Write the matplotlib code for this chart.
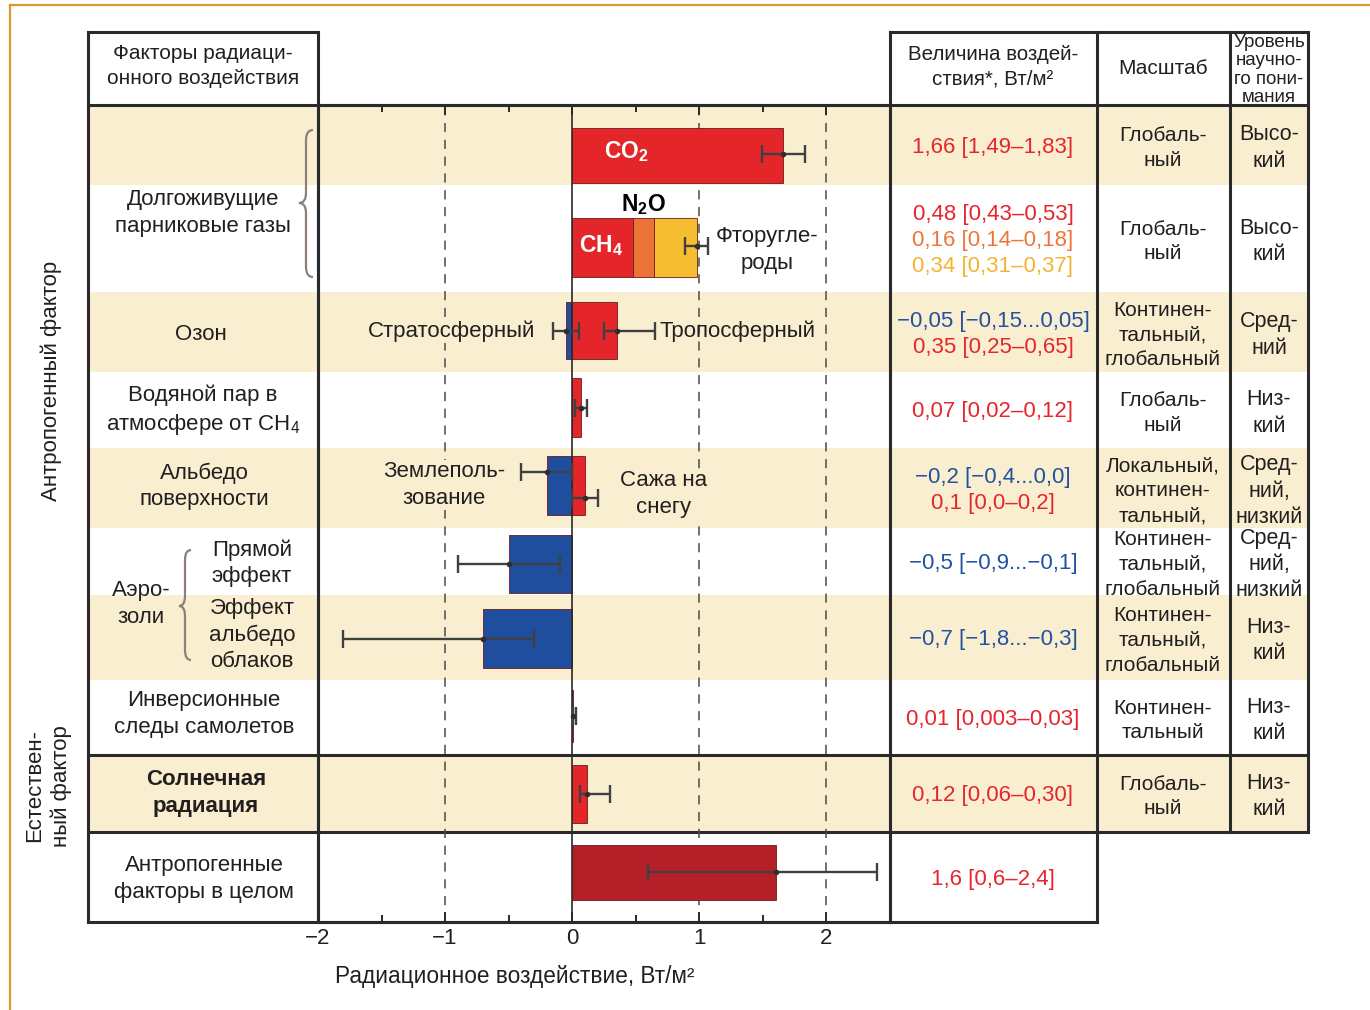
import matplotlib
matplotlib.use('Agg')
import matplotlib.pyplot as plt
from matplotlib.patches import Rectangle, PathPatch
from matplotlib.path import Path

plt.rcParams['font.family'] = ['Liberation Sans', 'DejaVu Sans']
plt.rcParams['mathtext.fontset'] = 'custom'
plt.rcParams['mathtext.rm'] = 'Liberation Sans'
plt.rcParams['mathtext.bf'] = 'Liberation Sans:bold'
plt.rcParams['axes.unicode_minus'] = True

# ---------------- data ----------------
# bars: row index, value, kind (stacked when same row and same sign)
bar_row = [0, 1, 1, 1, 2, 2, 3, 4, 4, 5, 6, 7, 8, 9]
bar_value = [1.66, 0.48, 0.16, 0.34, -0.05, 0.35, 0.07, -0.2, 0.1, -0.5, -0.7, 0.01, 0.12, 1.6]
bar_kind = ['pos', 'pos', 'n2o', 'halo', 'neg', 'pos', 'pos', 'neg', 'pos', 'neg', 'neg', 'pos', 'pos', 'total']

# uncertainty ranges
err_row = [0, 1, 2, 2, 3, 4, 4, 5, 6, 7, 8, 9]
err_center = [1.66, 0.98, -0.05, 0.35, 0.07, -0.2, 0.1, -0.5, -0.7, 0.01, 0.12, 1.6]
err_low = [1.49, 0.89, -0.15, 0.25, 0.02, -0.4, 0.0, -0.9, -1.8, 0.003, 0.06, 0.6]
err_high = [1.83, 1.07, 0.05, 0.65, 0.12, 0.0, 0.2, -0.1, -0.3, 0.03, 0.30, 2.4]

factor_labels = [
    'Долгоживущие\nпарниковые газы', None, 'Озон', 'Водяной пар в\nатмосфере от CH$_4$',
    'Альбедо\nповерхности', 'Прямой\nэффект', 'Эффект\nальбедо\nоблаков',
    'Инверсионные\nследы самолетов', 'Солнечная\nрадиация', 'Антропогенные\nфакторы в целом',
]

value_text = [
    [('1,66 [1,49–1,83]', 'r')],
    [('0,48 [0,43–0,53]', 'r'), ('0,16 [0,14–0,18]', 'o'), ('0,34 [0,31–0,37]', 'y')],
    [('−0,05 [−0,15...0,05]', 'b'), ('0,35 [0,25–0,65]', 'r')],
    [('0,07 [0,02–0,12]', 'r')],
    [('−0,2 [−0,4...0,0]', 'b'), ('0,1 [0,0–0,2]', 'r')],
    [('−0,5 [−0,9...−0,1]', 'b')],
    [('−0,7 [−1,8...−0,3]', 'b')],
    [('0,01 [0,003–0,03]', 'r')],
    [('0,12 [0,06–0,30]', 'r')],
    [('1,6 [0,6–2,4]', 'r')],
]
scale_text = ['Глобаль-\nный', 'Глобаль-\nный', 'Континен-\nтальный,\nглобальный', 'Глобаль-\nный',
              'Локальный,\nконтинен-\nтальный,', 'Континен-\nтальный,\nглобальный',
              'Континен-\nтальный,\nглобальный', 'Континен-\nтальный', 'Глобаль-\nный', '']
level_text = ['Высо-\nкий', 'Высо-\nкий', 'Сред-\nний', 'Низ-\nкий', 'Сред-\nний,\nнизкий',
              'Сред-\nний,\nнизкий', 'Низ-\nкий', 'Низ-\nкий', 'Низ-\nкий', '']

x_ticks = [-2, -1, 0, 1, 2]

# ---------------- layout (pixels) ----------------
W, H = 1370, 1010
row_edges = [105, 185, 292, 372, 448, 528, 595, 680, 755, 832, 922]
bar_span = [(128, 183), (218, 277), (302, 359), (378, 437), (456, 515),
            (535, 593), (609, 668), (690, 742), (765, 823), (845, 900)]
err_dy = [-2, -2, 0, 0, 0, -14, 12, 0, 0, 0, 0, -1]
beige_rows = [0, 2, 4, 6, 8]
X0, X1 = 318, 890  # chart area, -2 .. 2.5
BEIGE = '#F9EFD0'
LINE = '#2a2a2a'
TXT = '#231f20'
bar_colors = {'pos': '#E4262B', 'n2o': '#EA7336', 'halo': '#F6BD30', 'neg': '#1F4E9F', 'total': '#B41F28'}
txt_colors = {'r': '#E5262C', 'o': '#EE7638', 'y': '#F2B431', 'b': '#22519F'}
FS = 16
LS = 1.32

fig = plt.figure(figsize=(W / 100, H / 100), dpi=100)
bg = fig.add_axes([0, 0, 1, 1])
bg.set_xlim(0, W)
bg.set_ylim(H, 0)
bg.axis('off')

# page frame
bg.plot([10, W], [5, 5], color='#D99A2B', lw=1.6)
bg.plot([10, 10], [5, H], color='#D99A2B', lw=1.6)

# row bands
for i in beige_rows:
    bg.add_patch(Rectangle((88, row_edges[i]), 1308 - 88, row_edges[i + 1] - row_edges[i],
                           facecolor=BEIGE, lw=0, zorder=0))

# table lines
lw = 2.2
for xs, ys in [([88, 318], [32, 32]), ([890, 1308], [32, 32]), ([88, 1308], [105, 105]),
               ([88, 88], [32, 922]), ([318, 318], [32, 922]), ([890, 890], [32, 922]),
               ([1097, 1097], [32, 922]), ([1230, 1230], [32, 832]), ([1308, 1308], [32, 832]),
               ([88, 1308], [755, 755]), ([88, 1308], [832, 832]), ([88, 1097], [922, 922])]:
    bg.plot(xs, ys, color=LINE, lw=lw, solid_capstyle='projecting', zorder=3)

# headers
bg.text(203, 66, 'Факторы радиаци-\nонного воздействия', ha='center', va='center',
        fontsize=15, color=TXT, linespacing=1.35)
bg.text(993, 67, 'Величина воздей-\nствия*, Вт/м²', ha='center', va='center',
        fontsize=14.8, color=TXT, linespacing=1.35)
bg.text(1163, 69, 'Масштаб', ha='center', va='center', fontsize=15, color=TXT)
bg.text(1269, 70, 'Уровень\nнаучно-\nго пони-\nмания', ha='center', va='center',
        fontsize=13.5, color=TXT, linespacing=1.08)

# side labels
bg.text(51, 381, 'Антропогенный фактор', rotation=90, ha='center', va='center',
        fontsize=FS, color=TXT)
bg.text(48, 786, 'Естествен-\nный фактор', rotation=90, ha='center', va='center',
        fontsize=FS, color=TXT, linespacing=1.3)

# factor labels
label_pos = [(203, 213), None, (201, 334), (203, 411), (204, 486), (252, 563), (252, 635),
             (204, 714), (206, 793), (204, 879)]
for i, lab in enumerate(factor_labels):
    if lab is None:
        continue
    x, y = label_pos[i]
    bg.text(x, y, lab, ha='center', va='center', fontsize=FS, color=TXT, linespacing=LS,
            fontweight='bold' if i == 8 else 'normal')
bg.text(141, 604, 'Аэро-\nзоли', ha='center', va='center', fontsize=FS, color=TXT, linespacing=LS)


def brace(ax, xe, xt, y0, y1, ymid):
    xm = (xe + xt) / 2
    r = 10
    verts = [(xe, y0), (xm, y0), (xm, y0 + r), (xm, ymid - r), (xm, ymid), (xt, ymid),
             (xm, ymid), (xm, ymid + r), (xm, y1 - r), (xm, y1), (xe, y1)]
    codes = [Path.MOVETO, Path.CURVE3, Path.CURVE3, Path.LINETO, Path.CURVE3, Path.CURVE3,
             Path.CURVE3, Path.CURVE3, Path.LINETO, Path.CURVE3, Path.CURVE3]
    ax.add_patch(PathPatch(Path(verts, codes), fill=False, edgecolor='#8c8078', lw=1.6, zorder=2))


brace(bg, 313, 299, 130, 277, 203)
brace(bg, 191, 179, 550, 660, 606)

# right columns
for i in range(len(value_text)):
    yc = (row_edges[i] + row_edges[i + 1]) / 2 + 2
    lines = value_text[i]
    n = len(lines)
    for k, (t, c) in enumerate(lines):
        bg.text(993, yc + (k - (n - 1) / 2) * 26, t, ha='center', va='center',
                fontsize=FS, color=txt_colors[c])
    if scale_text[i]:
        bg.text(1163, yc + 1, scale_text[i], ha='center', va='center', fontsize=15,
                color=TXT, linespacing=1.38)
    if level_text[i]:
        bg.text(1269, yc + 1, level_text[i], ha='center', va='center', fontsize=15.5,
                color=TXT, linespacing=1.32)

bg.text(515, 977, 'Радиационное воздействие, Вт/м²', ha='center', va='center',
        fontsize=16.3, color=TXT)

# ---------------- chart ----------------
ax = fig.add_axes([X0 / W, 1 - 922 / H, (X1 - X0) / W, (922 - 105) / H])
ax.patch.set_alpha(0)
ax.set_xlim(-2, 2.5)
ax.set_ylim(922, 105)
for s in ax.spines.values():
    s.set_linewidth(lw)
    s.set_color(LINE)

for xv in [-1, 1, 2]:
    ax.axvline(xv, color='#4a4a4a', lw=1.1, ls=(0, (6, 5)), zorder=1)
ax.axvline(0, color='#2a2a2a', lw=1.2, zorder=4)

pos_acc = {}
neg_acc = {}
for r, v, k in zip(bar_row, bar_value, bar_kind):
    acc = pos_acc if v >= 0 else neg_acc
    left = acc.get(r, 0.0)
    top, bot = bar_span[r]
    ax.barh((top + bot) / 2, v, height=bot - top, left=left, color=bar_colors[k],
            edgecolor='#6d1a1a', linewidth=0.6, zorder=3)
    acc[r] = left + v

for r, c, lo, hi, dy in zip(err_row, err_center, err_low, err_high, err_dy):
    top, bot = bar_span[r]
    y = (top + bot) / 2 + dy
    ax.errorbar(c, y, xerr=[[c - lo], [hi - c]], fmt='o', ms=3, color='#2e2e2e',
                ecolor='#404040', elinewidth=1.7, capsize=6.5, capthick=1.7, zorder=5)

# labels inside the chart
knock = dict(boxstyle='square,pad=0.05', facecolor=BEIGE, edgecolor='none')
ax.text(0.43, 152, 'CO$_\\mathbf{2}$', color='white', fontsize=16.5, fontweight='bold',
        ha='center', va='center', zorder=6)
ax.text(0.23, 246, 'CH$_\\mathbf{4}$', color='white', fontsize=16.5, fontweight='bold',
        ha='center', va='center', zorder=6)
ax.text(0.56, 205, 'N$_\\mathbf{2}$O', color='black', fontsize=16.5, fontweight='bold',
        ha='center', va='center', zorder=6)
ax.text(1.13, 250, 'Фторугле-\nроды', color=TXT, fontsize=FS, ha='left', va='center',
        linespacing=LS, multialignment='center', zorder=6)
ax.text(-0.29, 331, 'Стратосферный', color=TXT, fontsize=FS, ha='right', va='center',
        bbox=knock, zorder=6)
ax.text(0.69, 331, 'Тропосферный', color=TXT, fontsize=FS, ha='left', va='center', zorder=6)
ax.text(-1.01, 485, 'Землеполь-\nзование', color=TXT, fontsize=FS, ha='center', va='center',
        linespacing=LS, bbox=knock, zorder=6)
ax.text(0.72, 494, 'Сажа на\nснегу', color=TXT, fontsize=FS, ha='center', va='center',
        linespacing=LS, bbox=knock, zorder=6)

ax.set_xticks(x_ticks)
ax.set_xticklabels([f'{t}'.replace('-', '−') for t in x_ticks])
ax.set_xticks([-1.5, -0.5, 0.5, 1.5], minor=True)
ax.set_yticks([])
ax.tick_params(axis='x', which='major', direction='in', length=7, width=1.4, top=True,
               labelsize=16, labelcolor=TXT, pad=4, color=LINE)
ax.tick_params(axis='x', which='minor', direction='in', length=5, width=1.4, top=True, color=LINE)

fig.savefig('out.png', dpi=100)
